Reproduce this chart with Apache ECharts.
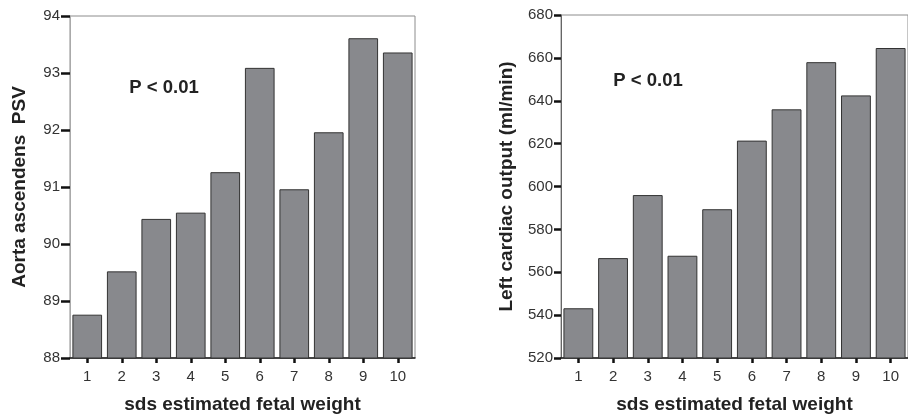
<!DOCTYPE html>
<html>
<head>
<meta charset="utf-8">
<script src="https://cdn.jsdelivr.net/npm/echarts@6/dist/echarts.min.js"></script>
<style>
  html, body { margin: 0; padding: 0; background: #fff; }
  #chart { width: 908px; height: 419px; }
</style>
</head>
<body>
<div id="chart"></div>
<script>
// sds groups of estimated fetal weight
const categories = ['1', '2', '3', '4', '5', '6', '7', '8', '9', '10'];
// mean peak systolic velocity in the ascending aorta per group
const aortaPSV = [88.76, 89.52, 90.44, 90.55, 91.26, 93.09, 90.96, 91.96, 93.61, 93.36];
// mean left cardiac output (ml/min) per group
const leftCardiacOutput = [543.2, 566.6, 596.0, 567.7, 589.4, 621.4, 636.0, 658.0, 642.5, 664.6];

const xTitle = 'sds estimated fetal weight';
const leftYTitle = 'Aorta ascendens  PSV';
const rightYTitle = 'Left cardiac output (ml/min)';
const pLabel = 'P < 0.01';

const FONT = 'Liberation Sans, Arial, Helvetica, sans-serif';

function xAxisFor(gridIndex) {
  return {
    type: 'category',
    gridIndex: gridIndex,
    data: categories,
    name: xTitle,
    nameLocation: 'middle',
    nameGap: 37,
    nameTextStyle: { fontFamily: FONT, fontSize: 19, fontWeight: 'bold', color: '#222' },
    axisLine: { show: true, lineStyle: { color: '#1a1a1a', width: 1.5 } },
    axisTick: { show: true, alignWithLabel: true, length: 5, lineStyle: { color: '#111', width: 2.5 } },
    axisLabel: { margin: 11, fontFamily: FONT, fontSize: 15, color: '#333' },
    splitLine: { show: false }
  };
}

function yAxisFor(gridIndex, min, max, interval, title, gap, lineColor, tickLen, labelMargin) {
  return {
    type: 'value',
    gridIndex: gridIndex,
    min: min,
    max: max,
    interval: interval,
    name: title,
    nameLocation: 'middle',
    nameRotate: 90,
    nameGap: gap,
    nameTextStyle: { fontFamily: FONT, fontSize: 19, fontWeight: 'bold', color: '#222' },
    axisLine: { show: true, lineStyle: { color: lineColor, width: 1 } },
    axisTick: { show: true, length: tickLen, lineStyle: { color: '#111', width: 2.5 } },
    axisLabel: { margin: labelMargin, fontFamily: FONT, fontSize: 15, color: '#333' },
    splitLine: { show: false }
  };
}

const barItemStyle = { color: '#88898d', borderColor: '#333', borderWidth: 1 };

const chart = echarts.init(document.getElementById('chart'), null, { renderer: 'canvas' });
chart.setOption({
  animation: false,
  backgroundColor: '#fff',
  grid: [
    { left: 70, top: 16, width: 345, height: 346.5, show: true, borderColor: '#8c8c8c', borderWidth: 1, backgroundColor: 'transparent' },
    { left: 561, top: 15, width: 349, height: 348, show: true, borderColor: '#8c8c8c', borderWidth: 1, backgroundColor: 'transparent' }
  ],
  xAxis: [xAxisFor(0), xAxisFor(1)],
  yAxis: [
    yAxisFor(0, 88, 94, 1, leftYTitle, 41, '#aaa', 9, 10),
    yAxisFor(1, 520, 680, 20, rightYTitle, 45, '#666', 7, 8)
  ],
  series: [
    { type: 'bar', xAxisIndex: 0, yAxisIndex: 0, data: aortaPSV, barCategoryGap: '14%', itemStyle: barItemStyle },
    { type: 'bar', xAxisIndex: 1, yAxisIndex: 1, data: leftCardiacOutput, barCategoryGap: '14%', itemStyle: barItemStyle }
  ],
  graphic: [
    { type: 'text', x: 164, y: 88, style: { text: pLabel, font: 'bold 18.5px ' + FONT, fill: '#222', align: 'center', verticalAlign: 'middle' } },
    { type: 'text', x: 648, y: 81, style: { text: pLabel, font: 'bold 18.5px ' + FONT, fill: '#222', align: 'center', verticalAlign: 'middle' } }
  ]
});
</script>
</body>
</html>
